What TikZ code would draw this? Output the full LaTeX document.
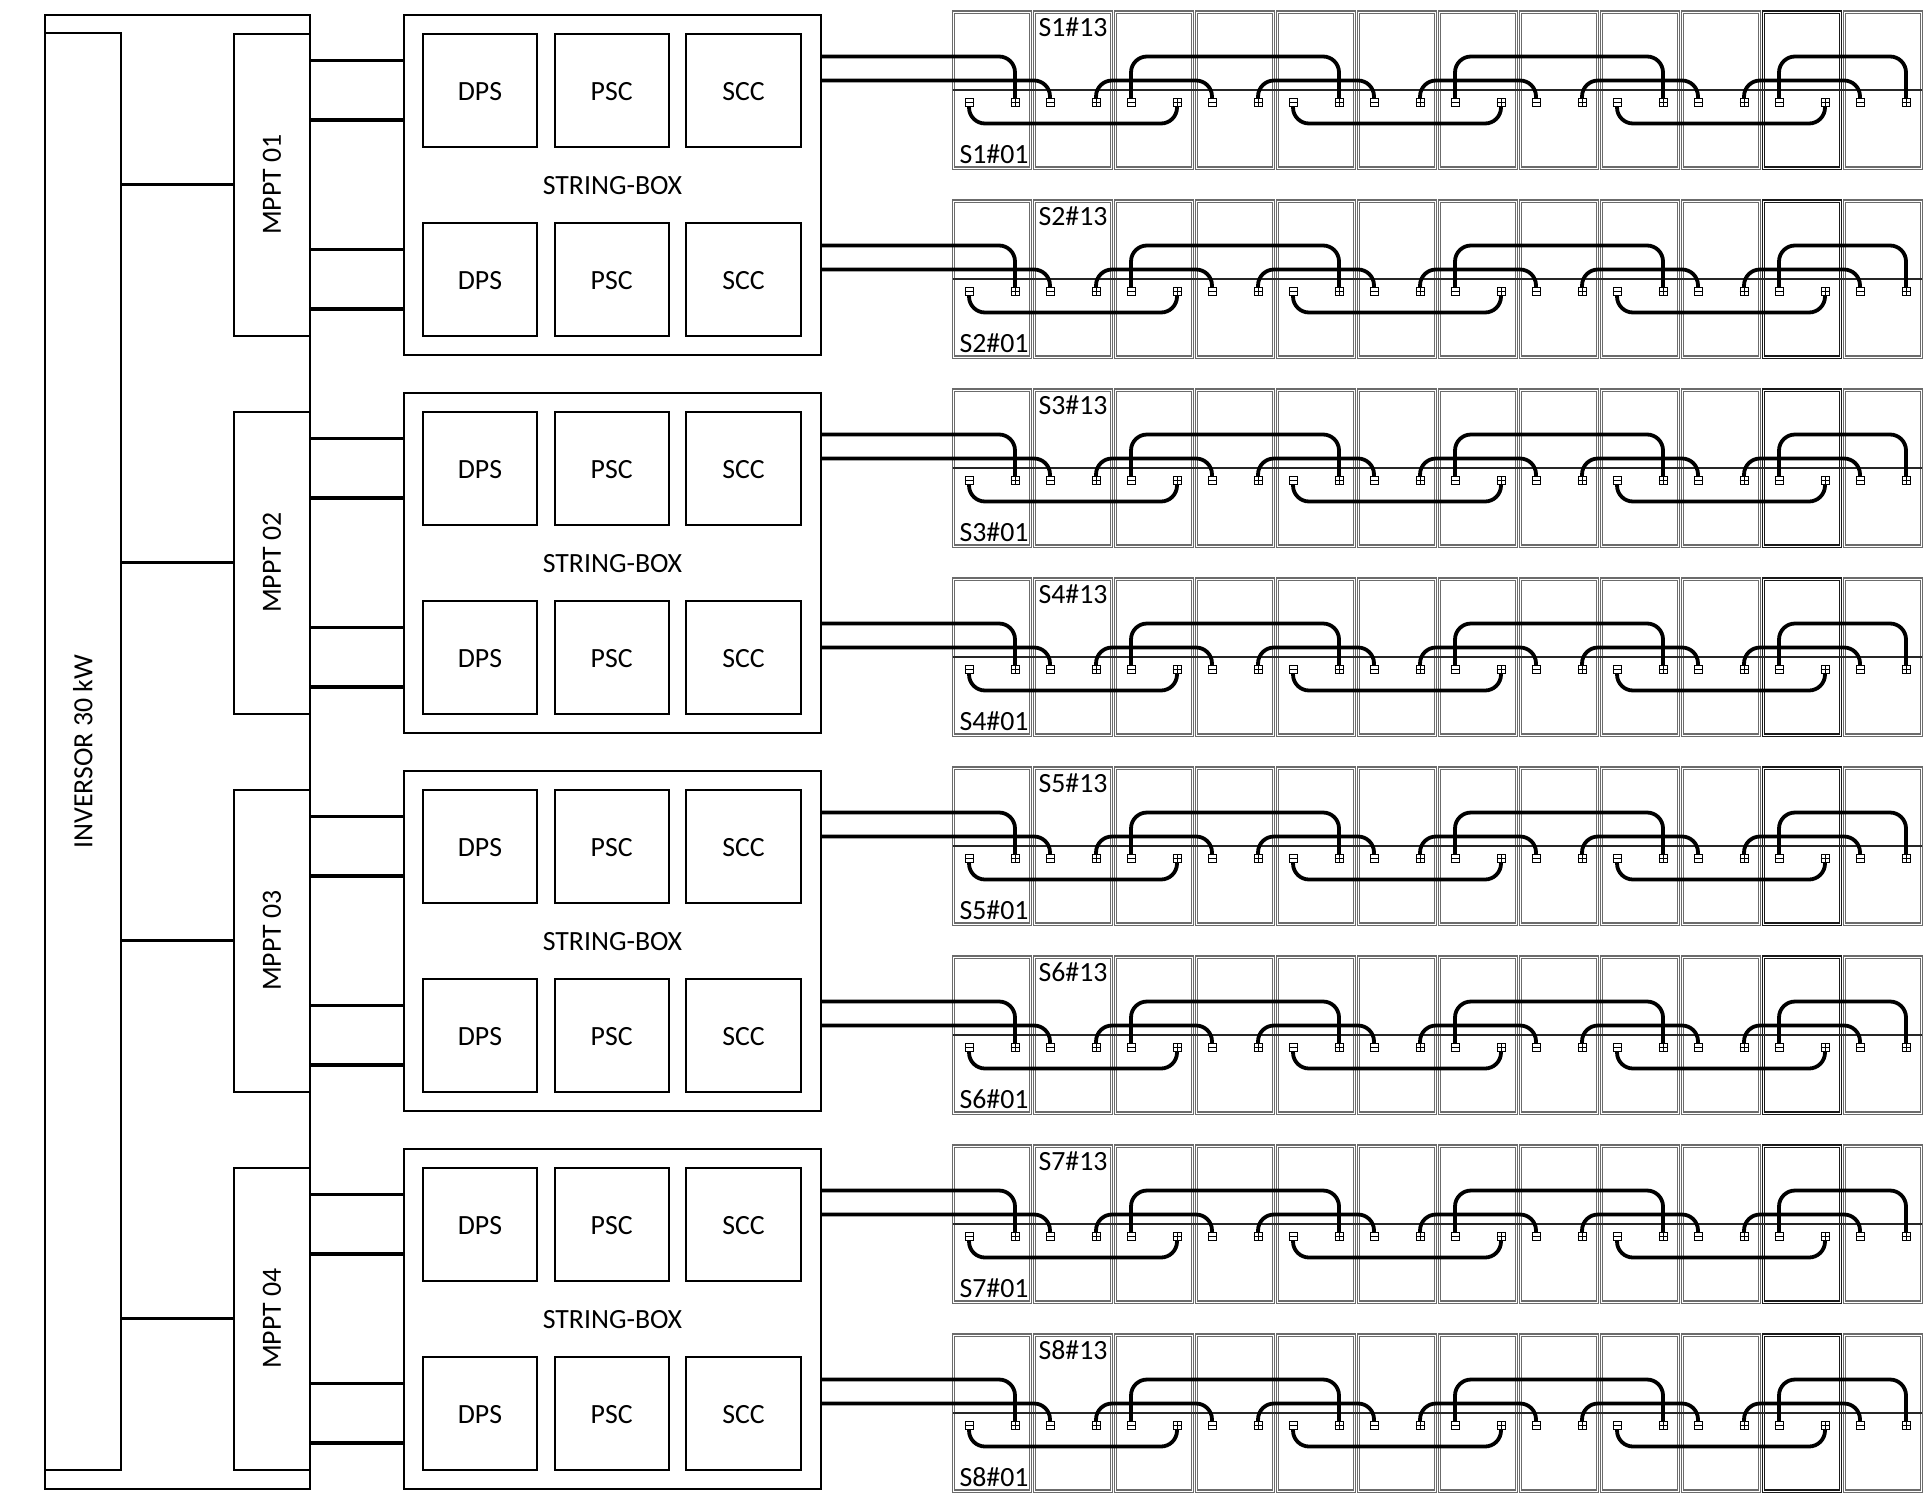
\documentclass[tikz,border=0pt]{standalone}
\usepackage{fontspec}
\setmainfont{Carlito}
\tikzset{
  blockbox/.style={draw,line width=1pt,inner sep=0pt,font=\fontsize{13.9}{16}\selectfont},
  flatbox/.style={blockbox,text height=10pt,text depth=0pt},
  panel/.style={line width=.65pt,double=white,double distance=.45pt,
    minimum width=38.5pt,minimum height=78pt,inner sep=0pt},
  tagtext/.style={inner sep=0pt,font=\fontsize{13.9}{16}\selectfont},
  termminus/.style={draw,line width=.5pt,fill=white,minimum size=4pt,inner sep=0pt,
    path picture={\draw[line width=.5pt](path picture bounding box.west)--(path picture bounding box.east);}},
  termplus/.style={termminus,
    path picture={\draw[line width=.5pt](path picture bounding box.north)--(path picture bounding box.south);}},
  bus/.style={line width=1.6pt},
  wire/.style={line width=1.9pt,rounded corners=8pt}
}
\begin{document}
\begin{tikzpicture}[x=.5pt,y=-.5pt]
  \useasboundingbox(0,0)rectangle(1932,1494);
  \node[draw,line width=1pt,minimum width=132.5pt,minimum height=737.2pt,inner sep=0pt](cabinet)at(177.5,751.7){};
  \node[blockbox,rotate=90,minimum width=718.2pt,minimum height=37.75pt](inversor)at(82.75,751.6){INVERSOR 30 kW};
  \foreach \k [evaluate=\k as \yo using {378*(\k-1)}] in {1,...,4}{
    \node[blockbox,rotate=90,minimum width=151.2pt,minimum height=38pt](mppt\k)at(272,184.7+\yo){MPPT 0\k};
    \node[flatbox,minimum width=208.5pt,minimum height=170.2pt](sb\k)at(612.5,184.8+\yo){STRING-BOX};
    \draw[bus](inversor.south|-mppt\k.center)--(mppt\k.north);
  }
  \foreach \s [evaluate=\s as \yo using {378*int((\s-1)/2)+189*mod(\s-1,2)},
      evaluate=\s as \k using {int((\s+1)/2)}] in {1,...,8}{
    \node[flatbox,minimum width=57.2pt,minimum height=56.6pt](dps\s)at(480,90.3+\yo){DPS};
    \node[flatbox,minimum width=57.2pt,minimum height=56.6pt](psc\s)at(611.7,90.3+\yo){PSC};
    \node[flatbox,minimum width=57.2pt,minimum height=56.6pt](scc\s)at(743.5,90.3+\yo){SCC};
    \draw[bus](mppt\k.south|-0,60.5+\yo)--(sb\k.west|-0,60.5+\yo);
    \draw[bus](mppt\k.south|-0,120+\yo)--(sb\k.west|-0,120+\yo);
    \foreach \i in {1,...,12}{
      \pgfmathtruncatemacro{\pk}{\i==11?90:58}
      \node[panel,draw=black!\pk](pn\s-\i)at({991.8+81*(\i-1)},90+\yo){};
    }
    \draw[line width=.9pt,black!85](pn\s-1.west)--(pn\s-12.east);
    \foreach \i in {1,...,12}{
      \node[termminus](tm\s-\i)at({969+81*(\i-1)},102.5+\yo){};
      \node[termplus](tp\s-\i)at({1015+81*(\i-1)},102.5+\yo){};
      \draw[line width=.5pt](tp\s-\i.west)--(tp\s-\i.east);
    }
    \node[tagtext](top\s)at(1073,27+\yo){S\s\#13};
    \node[tagtext](bot\s)at(994,154+\yo){S\s\#01};
    \coordinate(hi\s)at(0,56.5+\yo);
    \coordinate(md\s)at(0,80.5+\yo);
    \coordinate(lo\s)at(0,123.5+\yo);
    \draw[wire](sb\k.east|-hi\s)--(tp\s-1.north|-hi\s)--(tp\s-1.north);
    \draw[wire](sb\k.east|-md\s)--(tm\s-2.north|-md\s)--(tm\s-2.north);
    \foreach \a/\b in {2/4,4/6,6/8,8/10,10/12}
      \draw[wire](tp\s-\a.north)--(tp\s-\a.north|-md\s)--(tm\s-\b.north|-md\s)--(tm\s-\b.north);
    \foreach \a/\b in {3/5,7/9,11/12}
      \draw[wire](tm\s-\a.north)--(tm\s-\a.north|-hi\s)--(tp\s-\b.north|-hi\s)--(tp\s-\b.north);
    \foreach \a/\b in {1/3,5/7,9/11}
      \draw[wire](tm\s-\a.south)--(tm\s-\a.south|-lo\s)--(tp\s-\b.south|-lo\s)--(tp\s-\b.south);
  }
\end{tikzpicture}
\end{document}
